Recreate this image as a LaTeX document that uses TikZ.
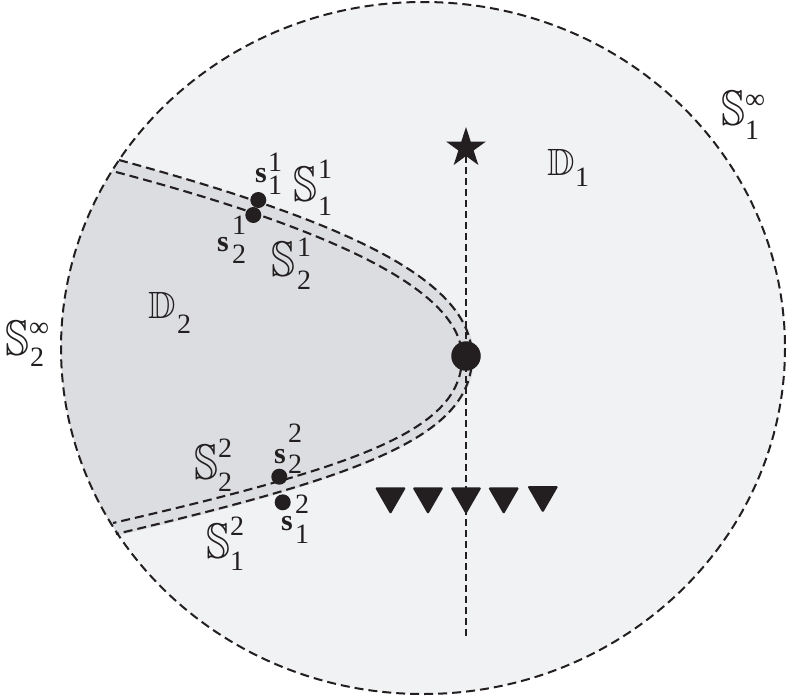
\documentclass[tikz,border=0pt]{standalone}
\usepackage{fontspec}
\setmainfont{Liberation Serif}
\usetikzlibrary{shapes.geometric}
\definecolor{bgc}{RGB}{241,242,244}
\definecolor{dtwo}{RGB}{220,221,224}
\definecolor{ink}{RGB}{35,31,32}
\newcommand\dsS{\scalebox{0.86}[1]{S}}
\begin{document}
\begin{tikzpicture}[x=1pt,y=-1pt,
  bbS/.style={inner sep=0pt, anchor=base west, text=ink, font=\fontsize{50}{50}\usefont{U}{msb}{m}{n}},
  bbD/.style={inner sep=0pt, anchor=base west, text=ink, font=\fontsize{38}{38}\usefont{U}{msb}{m}{n}},
  scr/.style={inner sep=0pt, anchor=base west, text=ink, font=\fontsize{28}{28}\selectfont},
  bs/.style={inner sep=0pt, anchor=base west, text=ink, font=\fontsize{30}{30}\selectfont\bfseries},
  curve/.style={draw=ink, line width=2.1pt, dash pattern=on 9pt off 5pt},
  rim/.style={draw=ink, line width=2pt, dash pattern=on 9pt off 5pt},
  vline/.style={draw=ink, line width=1.6pt, dash pattern=on 7pt off 4pt},
  sdot/.style={circle, fill=ink, inner sep=0pt, minimum size=16pt},
  tri/.style={regular polygon, regular polygon sides=3, shape border rotate=180, fill=ink, inner sep=0pt, minimum size=36pt, rounded corners=1.5pt},
]
\useasboundingbox (0,0) rectangle (787,697);
% background disc
\fill[bgc] (423,348) ellipse [x radius=362, y radius=346];
% region D2
\begin{scope}
  \clip (423,348) ellipse [x radius=362, y radius=346];
  \fill[dtwo] (0,160) -- (119,160) .. controls (347,222) and (474,280) .. (474,357)
     .. controls (474,437) and (360,478) .. (116,536) -- (0,536) -- cycle;
\end{scope}
% boundary curves
\coordinate (A1) at (119,160);
\coordinate (V)  at (472,357);
\coordinate (A2) at (116,534);
\coordinate (B1) at (116,172);
\coordinate (W)  at (462,357);
\coordinate (B2) at (113,523);
\draw[curve] (A1) .. controls (347,222) and (472,280) .. (V) .. controls (472,437) and (360,476.5) .. (A2);
\draw[curve] (B1) .. controls (350,234) and (462,295) .. (W) .. controls (462,430) and (360,466) .. (B2);
% outer circle
\draw[rim] (423,348) ellipse [x radius=362, y radius=346];
% star, apex dot, vertical line
\node[star, star points=5, star point ratio=2.618, fill=ink, inner sep=0pt, minimum size=42pt] (star) at (466,148) {};
\node[circle, fill=ink, inner sep=0pt, minimum size=29.5pt] (apex) at (466,356) {};
\coordinate (vend) at (466,636);
\draw[vline] (star) -- (vend);
% triangles
\node[tri] (t1) at (390.5,496.4) {};
\node[tri] (t2) at (428,496.4) {};
\node[tri] (t3) at (466,496.4) {};
\node[tri] (t4) at (503.7,496.4) {};
\node[tri] (t5) at (542.8,495) {};
% small dots
\node[sdot] (d11) at (258.3,200) {};
\node[sdot] (d21) at (253.3,215) {};
\node[sdot] (d22) at (279.3,476.7) {};
\node[sdot] (d12) at (282.7,502.3) {};
% labels: S infinity
\node[bbS] (Sinf1) at (721,125) {\dsS};
\node[scr] (Sinf1p) at (745,108) {∞};
\node[scr] (Sinf1b) at (745,139) {1};
\node[bbS] (Sinf2) at (5,355) {\dsS};
\node[scr] (Sinf2p) at (29,336) {∞};
\node[scr] (Sinf2b) at (30,366) {2};
% D labels
\node[bbD] (D1) at (547,175) {D};
\node[scr] (D1b) at (575,186) {1};
\node[bbD] (D2) at (148,318) {D};
\node[scr] (D2b) at (177,333) {2};
% S labels
\node[bbS] (S11) at (293,201) {\dsS};
\node[scr] (S11p) at (318,178) {1};
\node[scr] (S11b) at (318,215) {1};
\node[bbS] (S21) at (271,276) {\dsS};
\node[scr] (S21p) at (297,256) {1};
\node[scr] (S21b) at (297,289) {2};
\node[bbS] (S22) at (194,479) {\dsS};
\node[scr] (S22p) at (218,457) {2};
\node[scr] (S22b) at (218,491) {2};
\node[bbS] (S12) at (206,558) {\dsS};
\node[scr] (S12p) at (230,535) {2};
\node[scr] (S12b) at (230,570) {1};
% s labels
\node[bs] (s11) at (255,182) {s};
\node[scr] (s11p) at (268,171) {1};
\node[scr] (s11b) at (268,194) {1};
\node[bs] (s21) at (217,251) {s};
\node[scr] (s21p) at (232,234) {1};
\node[scr] (s21b) at (232,263) {2};
\node[bs] (s22) at (274,463) {s};
\node[scr] (s22p) at (288,442) {2};
\node[scr] (s22b) at (288,473) {2};
\node[bs] (s12) at (281,530) {s};
\node[scr] (s12p) at (295,513) {2};
\node[scr] (s12b) at (295,543) {1};
\end{tikzpicture}
\end{document}
